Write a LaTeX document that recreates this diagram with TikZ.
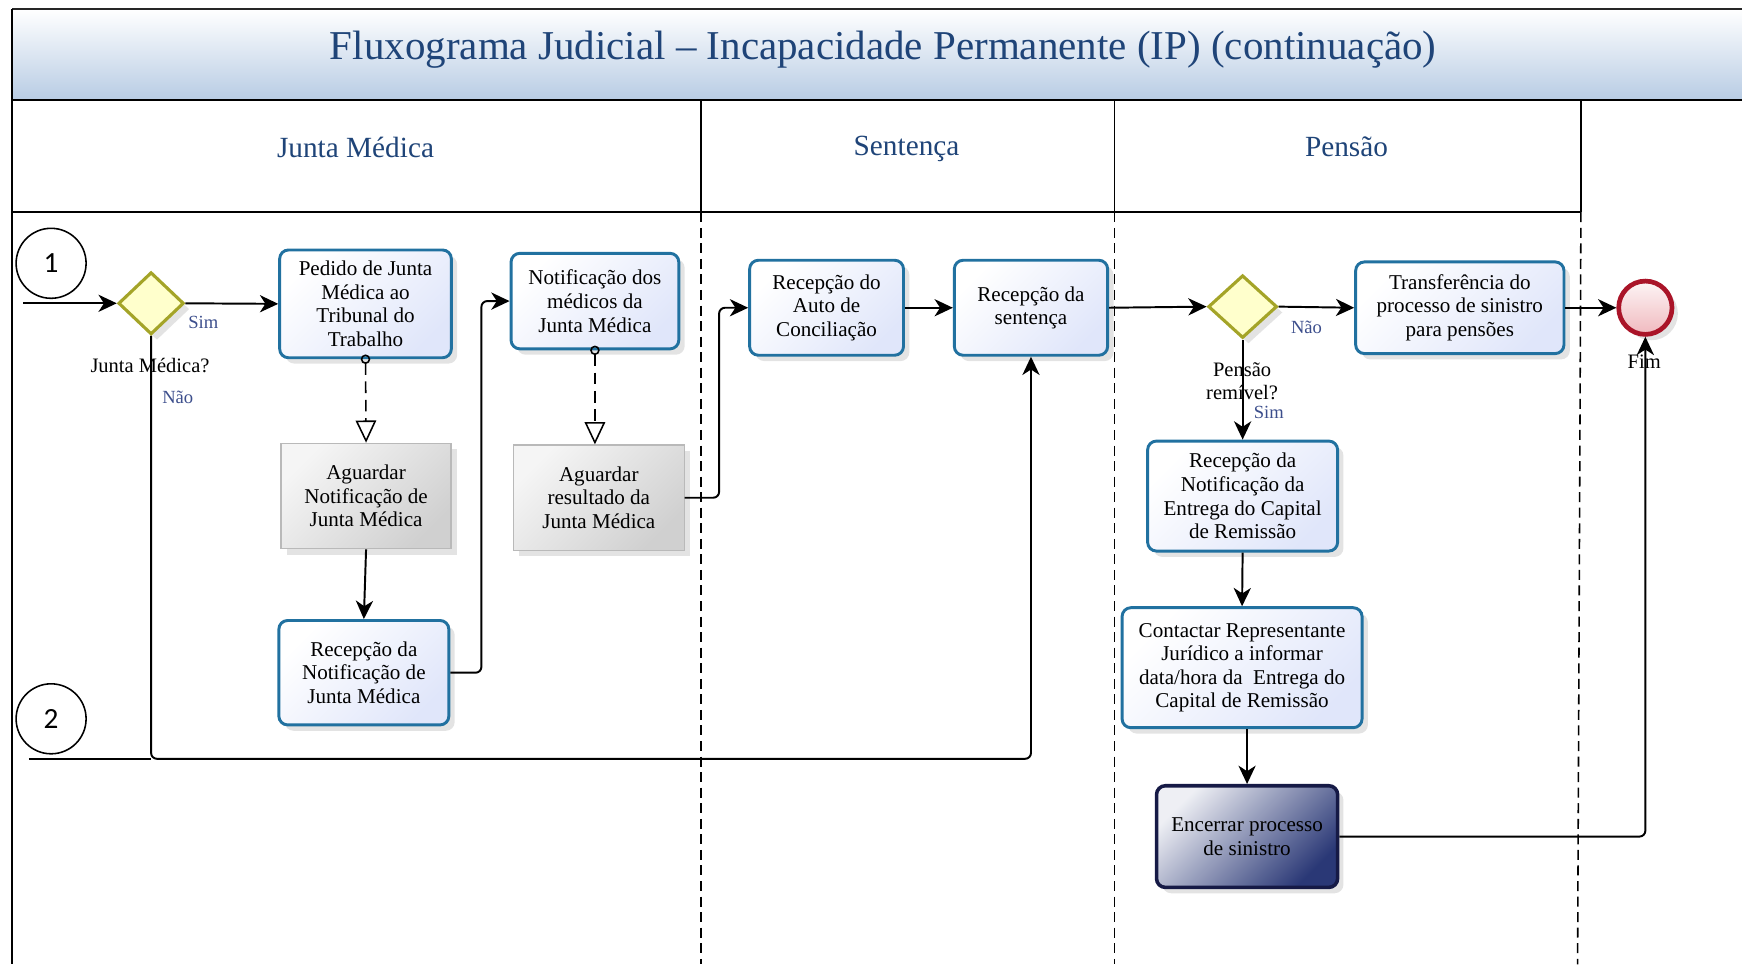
\documentclass[tikz,border=0pt]{standalone}
\usepackage{fontspec}
\setmainfont{Liberation Serif}
\newfontfamily\numfont{Carlito}
\usetikzlibrary{arrows.meta,shapes.geometric,shadows,positioning}

\definecolor{titleblue}{RGB}{31,68,120}
\definecolor{bandblue}{RGB}{184,204,228}
\definecolor{boxline}{RGB}{33,113,160}
\definecolor{boxfill}{RGB}{224,230,250}
\definecolor{greyfill}{RGB}{208,208,208}
\definecolor{greyline}{RGB}{185,185,185}
\definecolor{diafill}{RGB}{255,255,204}
\definecolor{dialine}{RGB}{164,164,40}
\definecolor{endline}{RGB}{170,20,40}
\definecolor{endfill}{RGB}{240,185,190}
\definecolor{navyfill}{RGB}{42,56,118}
\definecolor{navyline}{RGB}{22,26,70}
\definecolor{labelblue}{RGB}{60,78,140}

\tikzset{
  sombra/.style={drop shadow={opacity=0.22, shadow xshift=3pt, shadow yshift=-3pt}},
  tarefa/.style={draw=boxline, line width=1.5pt, rounded corners=4.5pt, align=center,
    top color=white, bottom color=boxfill, shading angle=45, inner sep=2pt, sombra,
    font=\fontsize{10.8pt}{12.1pt}\selectfont},
  espera/.style={draw=greyline, line width=0.6pt, align=center,
    top color=white!96!black, bottom color=greyfill, shading angle=45, inner sep=2pt, sombra,
    font=\fontsize{10.8pt}{12.1pt}\selectfont},
  fecho/.style={tarefa, draw=navyline, line width=1.8pt,
    top color=white!92!navyfill, bottom color=navyfill, shading angle=45},
  decisao/.style={diamond, draw=dialine, line width=1.6pt, fill=diafill,
    inner sep=0pt, sombra},
  evento/.style={circle, draw=endline, line width=2.4pt, minimum size=9.6mm, inner sep=0pt,
    top color=white!85!endfill, bottom color=endfill, sombra},
  conector/.style={circle, draw, line width=0.8pt, minimum size=12.6mm, inner sep=0pt,
    font=\numfont\fontsize{15pt}{18pt}\selectfont},
  rotulo/.style={align=center, font=\fontsize{10.5pt}{11.6pt}\selectfont},
  resposta/.style={text=labelblue, font=\fontsize{9.5pt}{11pt}\selectfont},
  raia/.style={text=titleblue, font=\fontsize{15pt}{18pt}\selectfont},
  seta/.style={line width=1pt, rounded corners=3pt, -{Stealth[length=3.3mm,width=3.1mm,inset=1mm]}},
  assoc/.style={line width=0.8pt, dash pattern=on 2.1mm off 1.2mm, shorten <=-0.85mm,
    {Circle[open,length=1.7mm,width=1.7mm]}-{Triangle[open,length=4mm,width=3.7mm]}},
  divisoria/.style={line width=0.8pt, dash pattern=on 1.8mm off 1mm}
}

\begin{document}
\begin{tikzpicture}[x=0.2mm, y=-0.2mm]
\useasboundingbox (0,0) rectangle (1568,868);

%标题栏
\shade[top color=white, bottom color=bandblue] (11,8) rectangle (1568,90);
\draw[line width=1.2pt, black!85] (11,8) -- (1568,8);
\draw[line width=1.4pt] (11,90) -- (1568,90);
\node[text=titleblue, font=\fontsize{21pt}{24pt}\selectfont] (titulo) at (795,45)
  {Fluxograma Judicial – Incapacidade Permanente (IP) (continuação)};

%泳道标题
\draw[line width=0.8pt] (11,8) -- (11,868);
\draw[line width=1.2pt] (11,191) -- (1423,191);
\draw[line width=0.8pt] (631,90) -- (631,191) (1003,90) -- (1003,191) (1423,90) -- (1423,191);
\node[raia] (hjunta) at (320,133) {Junta Médica};
\node[raia] (hsent) at (816,134) {Sentença};
\node[raia] (hpensao) at (1212,132) {Pensão};

%泳道虚线
\foreach \x/\y in {631/631,1003/1003,1423/1420}
  \draw[divisoria] (\x,191) -- (\y,868);

%连接点
\node[conector] (c1) at (46,237) {1};
\node[conector] (c2) at (46,647) {2};
\coordinate (e1) at (21,273);
\coordinate (e2) at (26,683);

%Junta Médica
\node[decisao, minimum width=11.8mm, minimum height=11.2mm] (d1) at (136,273) {};
\node[rotulo] (q1) at (135,329) {Junta Médica?};
\node[resposta] (sim1) at (183,290) {Sim};
\node[resposta] (nao1) at (160,358) {Não};
\node[tarefa, minimum width=30.9mm, minimum height=19.4mm] (pedido) at (329,273.5)
  {Pedido de Junta\\Médica ao\\Tribunal do\\Trabalho};
\node[espera, minimum width=30.6mm, minimum height=19mm] (aguard1) at (329.5,446.5)
  {Aguardar\\Notificação de\\Junta Médica};
\node[tarefa, minimum width=30.6mm, minimum height=18.8mm] (recep1) at (327.5,605.5)
  {Recepção da\\Notificação de\\Junta Médica};
\node[tarefa, minimum width=30.2mm, minimum height=17.2mm] (notif) at (535.5,271)
  {Notificação dos\\médicos da\\Junta Médica};
\node[espera, minimum width=30.7mm, minimum height=19mm] (aguard2) at (539,448)
  {Aguardar\\resultado da\\Junta Médica};

%Sentença
\node[tarefa, minimum width=27.7mm, minimum height=17.1mm] (auto) at (744,277)
  {Recepção do\\Auto de\\Conciliação};
\node[tarefa, minimum width=27.6mm, minimum height=17.1mm] (sent) at (928,277)
  {Recepção da\\sentença};

%Pensão
\node[decisao, minimum width=12.4mm, minimum height=11.3mm] (d2) at (1118.5,276) {};
\node[rotulo] (q2) at (1118,343) {Pensão\\remível?};
\node[resposta] (nao2) at (1176,295) {Não};
\node[resposta] (sim2) at (1142,371) {Sim};
\node[tarefa, minimum width=37.5mm, minimum height=16.5mm] (transf) at (1314,277)
  {Transferência do\\processo de sinistro\\para pensões};
\node[tarefa, minimum width=34.2mm, minimum height=19.8mm] (recnotif) at (1118.5,446.5)
  {Recepção da\\Notificação da\\Entrega do Capital\\de Remissão};
\node[tarefa, minimum width=43.2mm, minimum height=21.6mm] (contacto) at (1118,601)
  {Contactar Representante\\Jurídico a informar\\data/hora da\ \ Entrega do\\Capital de Remissão};
\node[fecho, minimum width=32.6mm, minimum height=18.3mm] (encerrar) at (1122.5,753)
  {Encerrar processo\\de sinistro};

%结束
\node[evento] (evfim) at (1481,277) {};
\node[rotulo] (tfim) at (1480,326) {Fim};

%连线
\draw[seta] (e1) -- (d1.west);
\draw[seta] (d1.east) -- (pedido.west);
\draw[assoc] (pedido.south) -- (aguard1.north);
\draw[seta] (aguard1.south) -- (recep1.north);
\draw[seta] (recep1.east) -- ++(28,0) |- (notif.west);
\draw[assoc] (notif.south) -- (notif.south |- aguard2.north);
\draw[seta] (aguard2.east) -- ++(31,0) |- (auto.west);
\draw[seta] (auto.east) -- (sent.west);
\coordinate (jn) at (d1.south |- e2);
\draw[line width=1pt] (e2) -- (jn);
\draw[seta] (d1.south) -- (jn) -| (sent.south);
\draw[seta] (sent.east) -- (d2.west);
\draw[seta] (d2.east) -- (transf.west);
\draw[seta] (transf.east) -- (evfim.west);
\draw[seta] (d2.south) -- (recnotif.north);
\draw[seta] (recnotif.south) -- (contacto.north);
\draw[seta] (contacto.south -| encerrar.north) -- (encerrar.north);
\draw[seta] (encerrar.east) -| (evfim.south);

\end{tikzpicture}
\end{document}
